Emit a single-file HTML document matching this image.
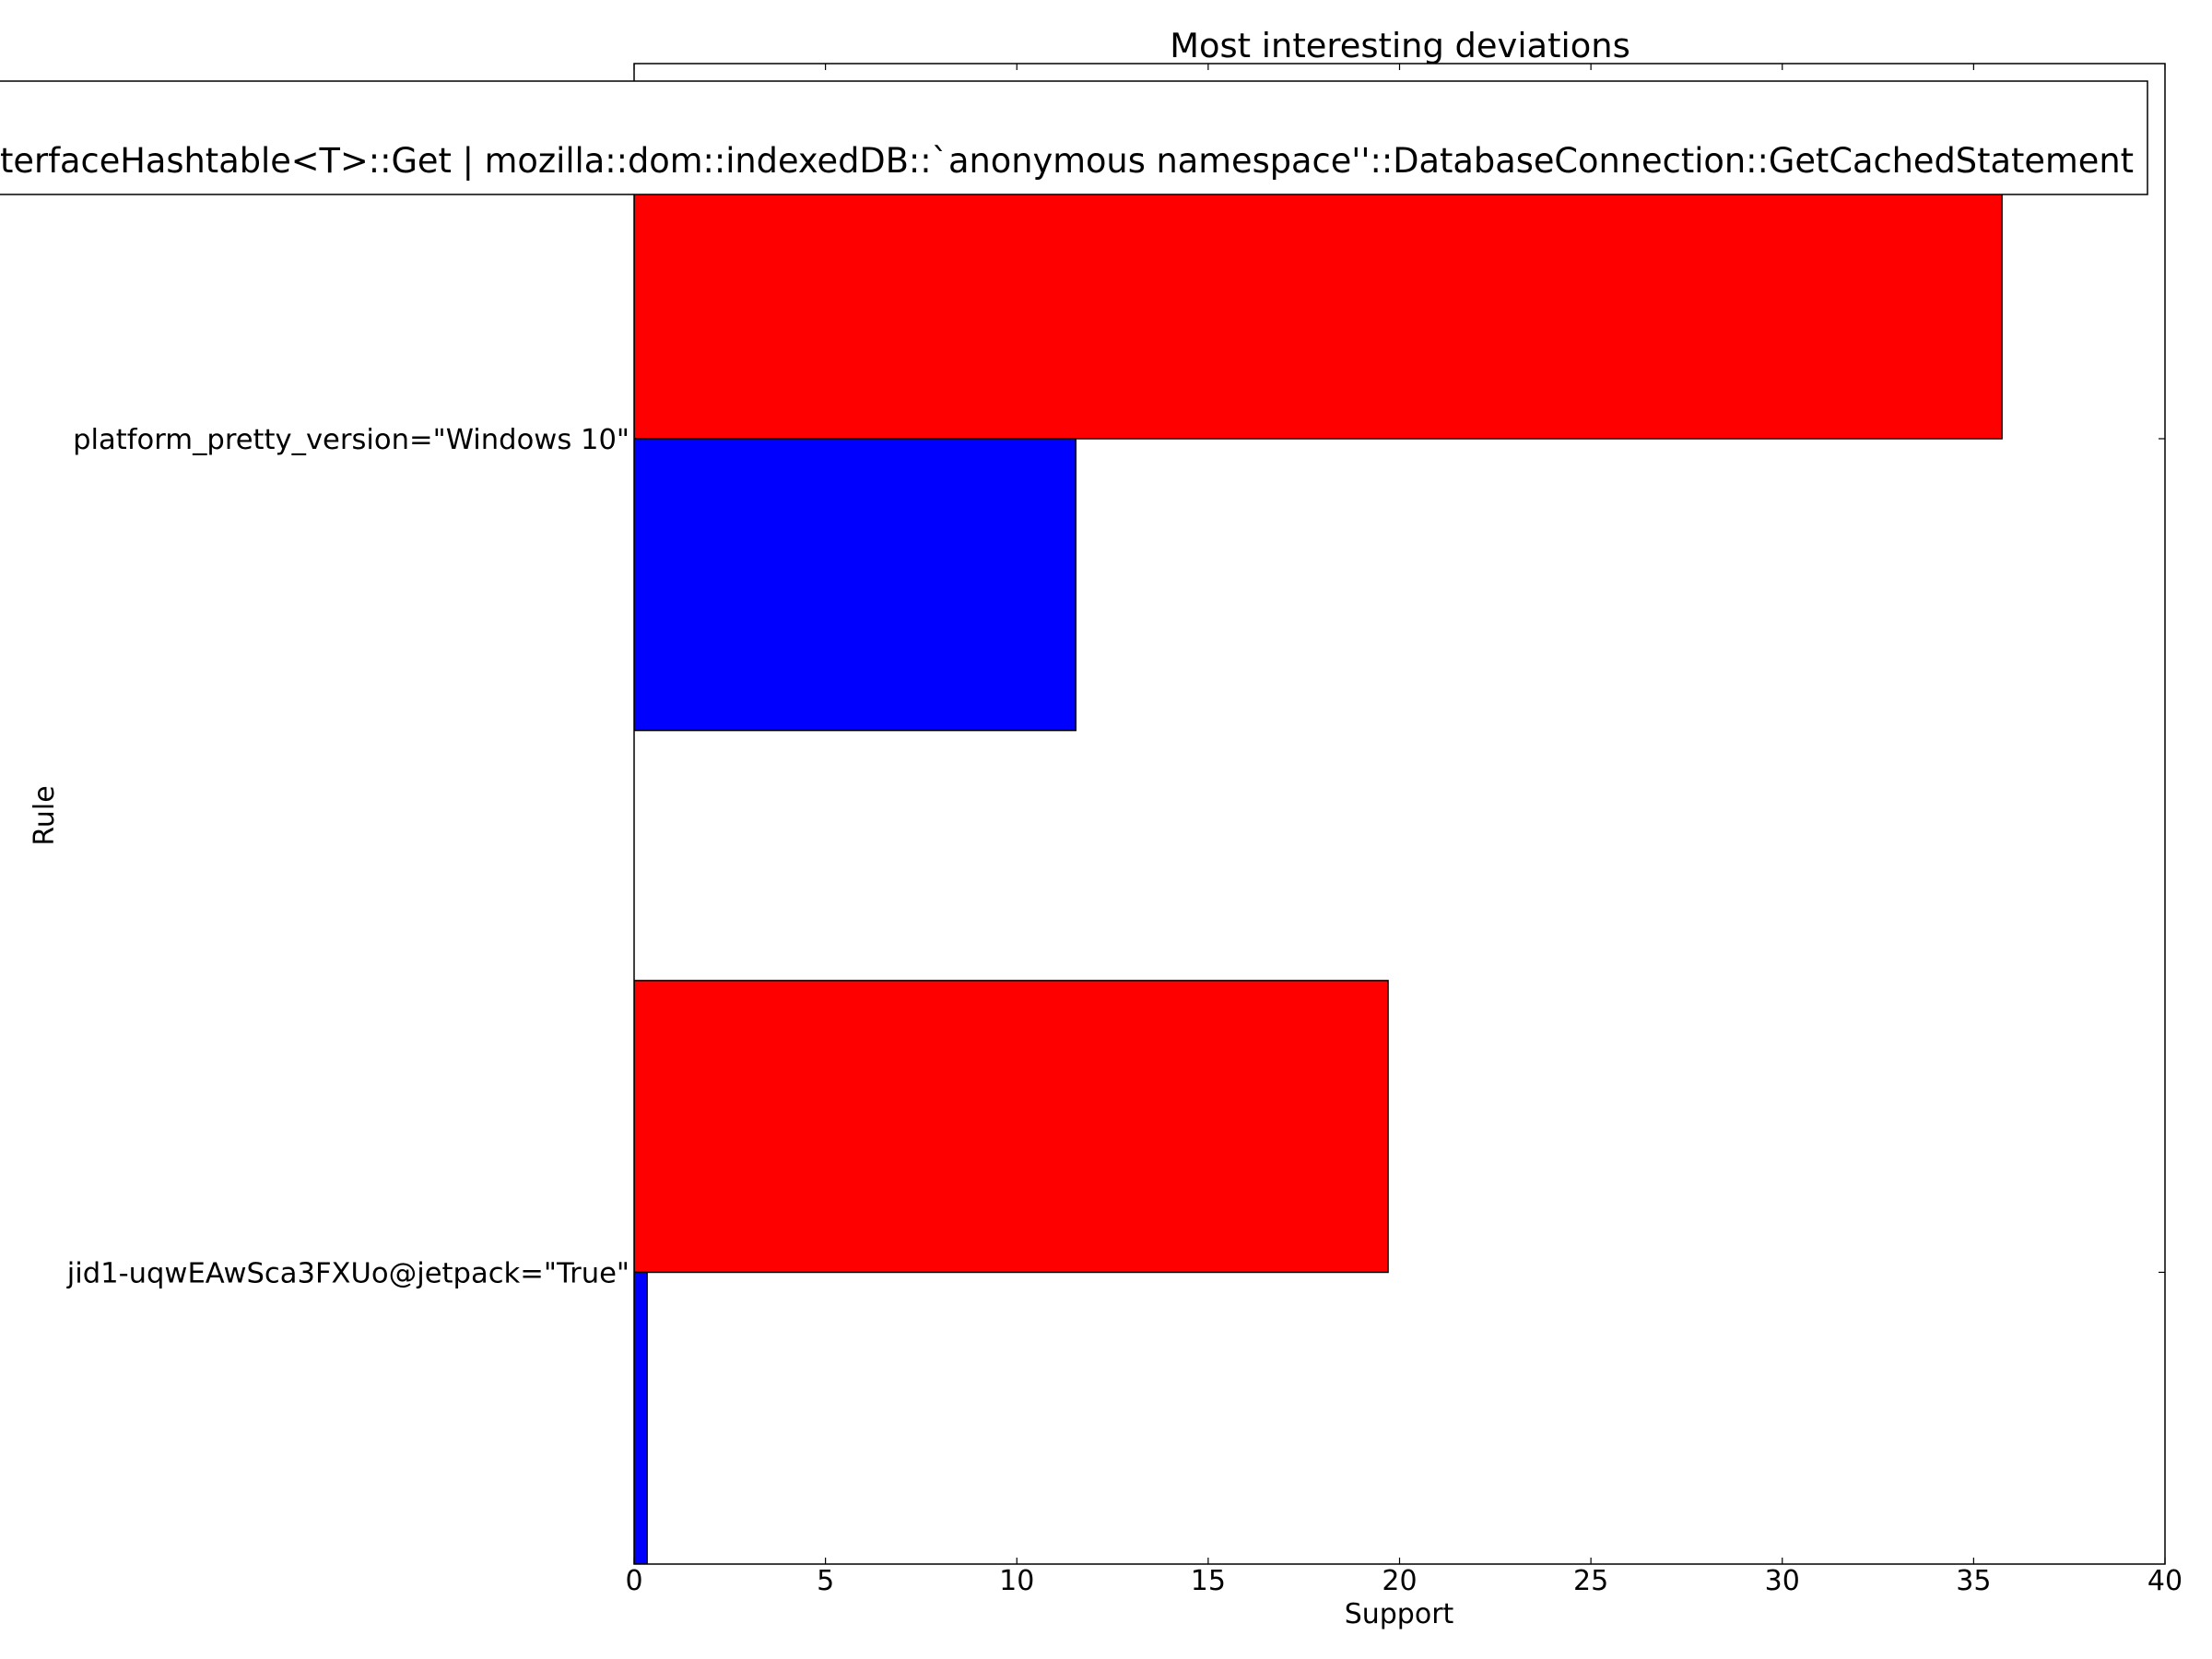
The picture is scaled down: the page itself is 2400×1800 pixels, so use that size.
<!DOCTYPE html>
<html><head><meta charset="utf-8"><style>
html,body{margin:0;padding:0;background:#fff;}
svg{display:block;font-family:"DejaVu Sans","Liberation Sans",sans-serif;}
</style></head><body>
<svg id="chart" width="2400" height="1800" viewBox="0 0 2400 1800" xmlns="http://www.w3.org/2000/svg">
<rect width="2400" height="1800" fill="#fff"/>
<g id="plot"></g>
</svg>
<script>
const categories = ['jid1-uqwEAwSca3FXUo@jetpack="True"', 'platform_pretty_version="Windows 10"'];
const redValues = [19.70, 35.74];
const blueValues = [0.34, 11.54];
const xTicks = [0, 5, 10, 15, 20, 25, 30, 35, 40];
const boxLabel = "nsInterfaceHashtable<T>::Get | mozilla::dom::indexedDB::`anonymous namespace''::DatabaseConnection::GetCachedStatement";

const NS = 'http://www.w3.org/2000/svg';
const L = 688, R = 2349, T = 69, B = 1697;
const xMin = 0, xMax = 40, yMin = -0.35, yMax = 1.45, barH = 0.35;
const xs = v => L + (v - xMin) / (xMax - xMin) * (R - L);
const ys = v => B - (v - yMin) / (yMax - yMin) * (B - T);
const g = document.getElementById('plot');
function mk(tag, attrs, parent) {
  const e = document.createElementNS(NS, tag);
  for (const k in attrs) e.setAttribute(k, attrs[k]);
  (parent || g).appendChild(e);
  return e;
}
const clip = mk('clipPath', {id: 'axclip'});
mk('rect', {x: L, y: T, width: R - L, height: B - T}, clip);
const bars = mk('g', {'clip-path': 'url(#axclip)'});


categories.forEach((c, i) => {
  const r = mk('rect', {x: xs(0), y: ys(i + barH), width: xs(redValues[i]) - xs(0), height: ys(i) - ys(i + barH), fill: '#ff0000', stroke: '#000', 'stroke-width': 1.5}, bars);
  
  
  const b = mk('rect', {x: xs(0), y: ys(i), width: xs(blueValues[i]) - xs(0), height: ys(i - barH) - ys(i), fill: '#0000ff', stroke: '#000', 'stroke-width': 1.5}, bars);
  
  
});
const frame = mk('rect', {x: L, y: T, width: R - L, height: B - T, fill: 'none', stroke: '#000', 'stroke-width': 1.5});


xTicks.forEach(t => {
  const x = xs(t);
  mk('line', {x1: x, y1: B, x2: x, y2: B - 7, stroke: '#000', 'stroke-width': 1.2});
  mk('line', {x1: x, y1: T, x2: x, y2: T + 7, stroke: '#000', 'stroke-width': 1.2});
  const tx = mk('text', {x: x, y: 1725, 'font-size': 30, 'text-anchor': 'middle', fill: '#000'});
  tx.textContent = t;
  
  
});
categories.forEach((c, i) => {
  const y = ys(i);
  mk('line', {x1: R, y1: y, x2: R - 7, y2: y, stroke: '#000', 'stroke-width': 1.2});
  const tx = mk('text', {x: 683, y: y + 11, 'font-size': 30.6, 'text-anchor': 'end', fill: '#000'});
  tx.textContent = c;
  
  
});
const box = mk('rect', {x: -10, y: 88, width: 2340, height: 123, fill: '#fff', stroke: '#000', 'stroke-width': 1.5});


const bt = mk('text', {x: 0, y: 187, 'font-size': 37.6, 'text-anchor': 'start', fill: '#000'});
bt.textContent = boxLabel;


(function fitBox() {
  const full = bt.getComputedTextLength();
  let pre = 0;
  try { pre = bt.getSubStringLength(0, 4); } catch (e) { pre = full * 4 / boxLabel.length; }
  const visible = full - pre;
  const k = visible > 0 ? 2314 / visible : 1;
  // place so that "terface..." starts at x=0 and text ends at x=2314
  bt.setAttribute('transform', 'translate(' + (-pre * k) + ',0) scale(' + k + ',1)');
})();
const title = mk('text', {x: 1519, y: 62, 'font-size': 36.8, 'text-anchor': 'middle', fill: '#000'});
title.textContent = 'Most interesting deviations';


const xl = mk('text', {x: 1518, y: 1761, 'font-size': 30, 'text-anchor': 'middle', fill: '#000'});
xl.textContent = 'Support';


const yl = mk('text', {x: 0, y: 0, 'font-size': 30, 'text-anchor': 'middle', fill: '#000', transform: 'translate(58,885) rotate(-90)'});
yl.textContent = 'Rule';


</script>
</body></html>
